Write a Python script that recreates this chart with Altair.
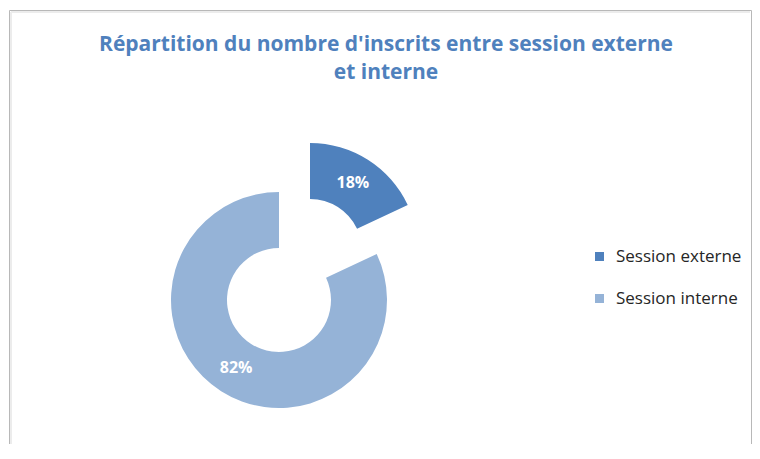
import math
import altair as alt
import pandas as pd

title_lines = ["Répartition du nombre d'inscrits entre session externe", "et interne"]
categories = ["Session externe", "Session interne"]
values = [18, 82]
labels = ["18%", "82%"]
colors = ["#4F81BD", "#95B3D7"]

df = pd.DataFrame({"cat": categories, "val": values, "label": labels, "order": [0, 1]})

PT = 70
W, H = 744, 366
cx, cy = 271, 292 - PT
ex, ey = 302, 243 - PT
R_OUT, R_IN, R_LAB = 108, 52, 80

theta_scale = alt.Scale(domain=[0, 100], range=[0, 2 * math.pi])
color_scale = alt.Scale(domain=categories, range=colors)

base = (
    alt.Chart(df)
    .transform_window(cum="sum(val)", sort=[alt.SortField("order")], frame=[None, 0])
    .transform_calculate(start="datum.cum - datum.val", mid="datum.cum - datum.val/2")
)


def arc_layer(cat, x, y):
    arc = base.transform_filter(alt.datum.cat == cat).mark_arc(
        radius=R_OUT, radius2=R_IN, stroke=None
    ).encode(
        theta=alt.Theta("start:Q", scale=theta_scale),
        theta2="cum:Q",
        color=alt.Color(
            "cat:N",
            scale=color_scale,
            legend=alt.Legend(
                title=None,
                orient="none",
                legendX=583,
                legendY=240 - PT,
                symbolType="square",
                symbolSize=81,
                symbolStrokeWidth=0,
                labelFont="Open Sans",
                labelFontSize=17,
                labelColor="#262626",
                rowPadding=24,
                labelOffset=8,
            ),
        ),
        x=alt.value(x),
        y=alt.value(y),
    )
    txt = base.transform_filter(alt.datum.cat == cat).mark_text(
        radius=R_LAB, font="Open Sans", fontWeight="bold", fontSize=16, color="white"
    ).encode(
        theta=alt.Theta("mid:Q", scale=theta_scale),
        text="label:N",
        x=alt.value(x),
        y=alt.value(y),
    )
    return arc + txt


title_df = pd.DataFrame({"line": title_lines, "i": [0, 1]})
title = alt.Chart(title_df).mark_text(
    font="Open Sans", fontSize=21, fontWeight="bold", color="#4F81BD", align="center", baseline="alphabetic"
).encode(
    text="line:N",
    x=alt.value(378),
    y=alt.Y("i:Q", scale=alt.Scale(domain=[0, 1], range=[51 - 8 - PT, 79 - 8 - PT]), axis=None),
)

frame_df = pd.DataFrame({"k": [0]})
fr = alt.Chart(frame_df)
border = (
    fr.mark_rule(color="#b8b8b8", strokeWidth=1).encode(x=alt.value(1.5), x2=alt.value(W - 0.5), y=alt.value(2.5 - PT))
    + fr.mark_rule(color="#b8b8b8", strokeWidth=1).encode(x=alt.value(1.5), y=alt.value(2.5 - PT), y2=alt.value(H))
    + fr.mark_rule(color="#b8b8b8", strokeWidth=1).encode(x=alt.value(W - 0.5), y=alt.value(2.5 - PT), y2=alt.value(H))
    + fr.mark_rule(color="#ececec", strokeWidth=2).encode(x=alt.value(3), x2=alt.value(W - 2), y=alt.value(4 - PT))
    + fr.mark_rule(color="#ececec", strokeWidth=2).encode(x=alt.value(3), y=alt.value(4 - PT), y2=alt.value(H))
)

chart = (
    alt.layer(border, title, arc_layer("Session externe", ex, ey), arc_layer("Session interne", cx, cy))
    .properties(
        width=W,
        height=H,
        autosize=alt.AutoSizeParams(type="none"),
        padding={"left": 0, "top": PT, "right": 0, "bottom": 0},
    )
    .configure_view(stroke=None)
)

chart.save("out.html", embed_options={"renderer": "svg", "actions": False})
